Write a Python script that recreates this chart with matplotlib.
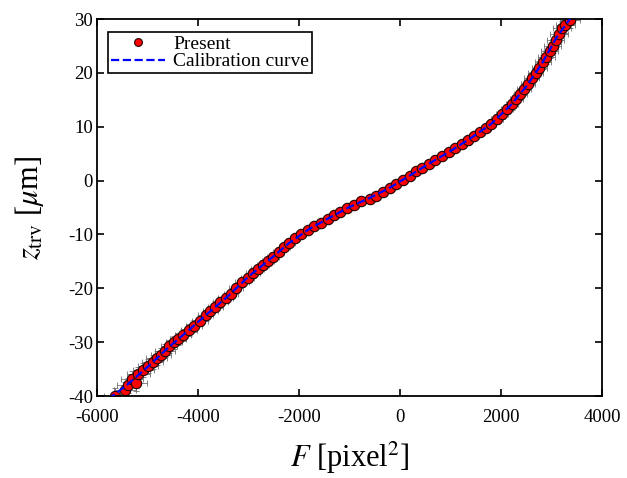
import matplotlib
matplotlib.use("Agg")
import matplotlib.pyplot as plt

plt.rcParams['font.family'] = ['Liberation Serif', 'DejaVu Serif']
plt.rcParams['mathtext.fontset'] = 'stix'
plt.rcParams['axes.unicode_minus'] = False

# measured points (F in pixel^2, z in um)
F_present = [-5650, -5450, -5390, -5300, -5230, -5180, -5080, -4990, -4900, -4820,
             -4740, -4660, -4570, -4480, -4400, -4300, -4180, -4080, -3960, -3850,
             -3760, -3660, -3560, -3450, -3350, -3250, -3130, -3020, -2910, -2820,
             -2720, -2620, -2510, -2400, -2290, -2190, -2080, -1960, -1830, -1700,
             -1560, -1430, -1300, -1180, -1050, -920, -770, -600, -480, -340,
             -200, -80, 60, 190, 320, 440, 570, 700, 830, 960,
             1090, 1220, 1340, 1460, 1580, 1700, 1810, 1920, 2020, 2120,
             2210, 2300, 2380, 2460, 2540, 2610, 2690, 2760, 2830, 2900,
             2960, 3020, 3080, 3140, 3200, 3270, 3370]
z_present = [-40.0, -38.8, -38.0, -36.8, -37.6, -36.0, -35.2, -34.5, -33.6, -33.0,
             -32.3, -31.6, -30.8, -30.0, -29.4, -28.6, -27.7, -27.0, -26.0, -25.0,
             -24.2, -23.4, -22.6, -21.8, -21.0, -20.0, -18.9, -18.0, -17.1, -16.4,
             -15.6, -14.9, -14.1, -13.2, -12.3, -11.5, -10.7, -9.9, -9.2, -8.5,
             -7.8, -7.1, -6.4, -5.8, -5.1, -4.5, -3.8, -3.5, -2.8, -2.1,
             -1.3, -0.6, 0.2, 0.9, 1.7, 2.4, 3.1, 3.9, 4.6, 5.3,
             6.0, 6.8, 7.5, 8.3, 9.0, 9.8, 10.6, 11.5, 12.3, 13.3,
             14.2, 15.2, 16.1, 17.1, 18.0, 19.0, 20.0, 21.0, 22.0, 23.0,
             24.0, 25.1, 26.2, 27.3, 28.3, 28.9, 29.8]
F_err = [220, 220, 220, 220, 220, 220, 200, 200, 200, 200,
         200, 200, 160, 160, 160, 160, 160, 160, 150, 150,
         150, 150, 150, 150, 140, 140, 140, 130, 130, 130,
         120, 120, 120, 110, 110, 110, 90, 90, 90, 80,
         80, 80, 80, 80, 80, 80, 80, 80, 80, 80,
         80, 80, 80, 80, 80, 80, 80, 80, 80, 80,
         80, 90, 90, 90, 100, 100, 100, 110, 110, 120,
         120, 130, 130, 140, 140, 150, 150, 150, 160, 160,
         160, 170, 170, 180, 180, 190, 200]
z_err = [1.4, 1.4, 1.4, 1.4, 1.4, 1.4, 1.3, 1.3, 1.3, 1.3,
         1.2, 1.2, 1.2, 1.2, 1.1, 1.1, 1.1, 1.1, 1.0, 1.0,
         1.0, 1.0, 1.0, 1.0, 0.9, 0.9, 0.9, 0.9, 0.9, 0.8,
         0.8, 0.8, 0.8, 0.8, 0.8, 0.8, 0.7, 0.7, 0.7, 0.7,
         0.7, 0.7, 0.7, 0.7, 0.7, 0.7, 0.7, 0.7, 0.7, 0.7,
         0.7, 0.7, 0.7, 0.7, 0.7, 0.7, 0.7, 0.7, 0.7, 0.7,
         0.7, 0.7, 0.8, 0.8, 0.8, 0.8, 0.9, 0.9, 0.9, 1.0,
         1.0, 1.0, 1.1, 1.1, 1.1, 1.2, 1.2, 1.2, 1.3, 1.3,
         1.3, 1.3, 1.4, 1.4, 1.4, 1.4, 1.4]

# calibration curve
F_calib = [-5780, -5400, -5000, -4600, -4200, -3800, -3400, -3000, -2600, -2200,
           -1800, -1400, -1000, -600, -200, 200, 600, 1000, 1400, 1800,
           2200, 2500, 2800, 3100, 3400]
z_calib = [-40.6, -37.9, -34.6, -31.1, -27.9, -24.6, -21.4, -17.8, -14.8, -11.6,
           -9.0, -6.9, -4.9, -3.2, -1.3, 1.0, 3.3, 5.5, 7.9, 10.5,
           14.1, 17.5, 21.6, 26.6, 30.5]

x_ticks = [-6000, -4000, -2000, 0, 2000, 4000]
y_ticks = [-40, -30, -20, -10, 0, 10, 20, 30]

fig = plt.figure(figsize=(6.27, 4.78), dpi=100)
ax = fig.add_axes([0.1547, 0.1715, 0.8055, 0.7885])

ax.errorbar(F_present, z_present, xerr=F_err, yerr=z_err, fmt='none',
            ecolor='#707070', elinewidth=0.6, capsize=2, capthick=0.6, zorder=1)
ax.plot(F_present, z_present, 'o', color='#ff0000', markeredgecolor='#200000',
        markeredgewidth=0.8, markersize=7.5, label='Present', zorder=2)
ax.plot(F_calib, z_calib, '--', color='#0000ff', lw=1.6,
        label='Calibration curve', zorder=3)

ax.set_xlim(-6000, 4000)
ax.set_ylim(-40, 30)
ax.set_xticks(x_ticks)
ax.set_yticks(y_ticks)
ax.tick_params(direction='in', top=True, right=True, length=5, width=1.2,
               labelsize=13.5)
ax.tick_params(axis='x', pad=9)
ax.tick_params(axis='y', pad=3)
for s in ax.spines.values():
    s.set_linewidth(1.3)

ax.set_xlabel(r'$F$ [pixel$^2$]', fontsize=22, labelpad=10)
ax.set_ylabel(r'$z_{\rm trv}$ [$\mu$m]', fontsize=22, labelpad=16)

leg = ax.legend(loc='upper left', fontsize=14, fancybox=False, framealpha=1,
                edgecolor='black', borderpad=0.15, handlelength=2.8,
                handletextpad=0.4, labelspacing=0.0, borderaxespad=0,
                bbox_to_anchor=(0.022, 0.965), markerscale=0.75)
leg.get_frame().set_linewidth(1.2)

fig.savefig('out.png', dpi=100)
